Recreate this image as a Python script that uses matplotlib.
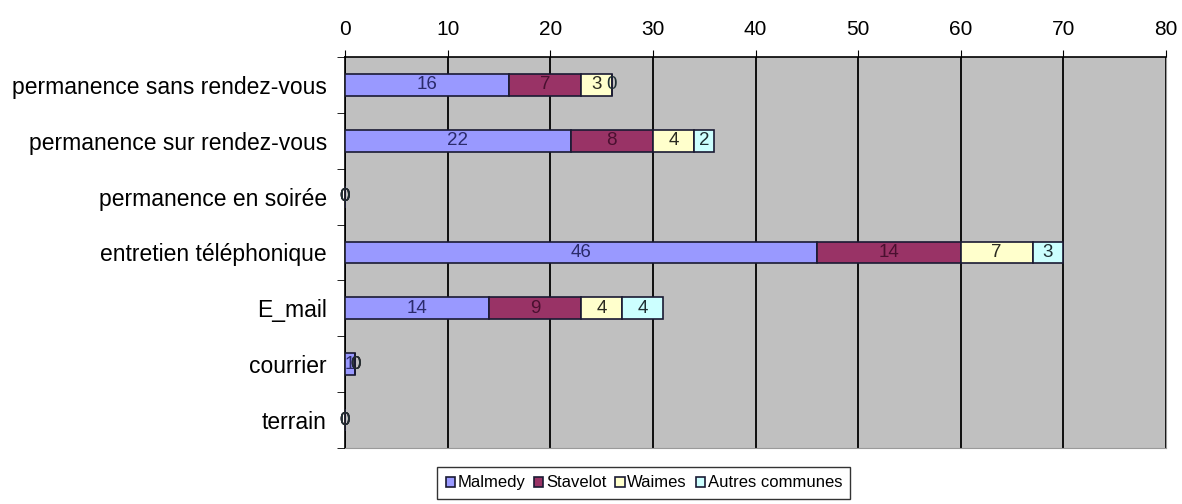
import numpy as np
import matplotlib
matplotlib.use("Agg")
import matplotlib.pyplot as plt

plt.rcParams["font.family"] = ["Liberation Sans", "DejaVu Sans"]

# categories, top to bottom
categories = [
    "permanence sans rendez-vous",
    "permanence sur rendez-vous",
    "permanence en soirée",
    "entretien téléphonique",
    "E_mail",
    "courrier",
    "terrain",
]
malmedy = [16, 22, 0, 46, 14, 1, 0]
stavelot = [7, 8, 0, 14, 9, 0, 0]
waimes = [3, 4, 0, 7, 4, 0, 0]
autres = [0, 2, 0, 3, 4, 0, 0]

series = [
    ("Malmedy", malmedy, "#9999ff", "#2b2b6b"),
    ("Stavelot", stavelot, "#993366", "#4a1030"),
    ("Waimes", waimes, "#ffffcc", "#2a2a20"),
    ("Autres communes", autres, "#ccffff", "#1f2f33"),
]

fig = plt.figure(figsize=(11.82, 5.04), dpi=100)
ax = fig.add_axes([345 / 1182, 1 - 448 / 504, 821 / 1182, 391 / 504])
ax.set_facecolor("#c0c0c0")

y = np.arange(len(categories))
left = np.zeros(len(categories))
for name, vals, color, tcol in series:
    vals = np.array(vals, dtype=float)
    ax.barh(y, vals, left=left, height=0.39, color=color,
            edgecolor="#1a1a33", linewidth=1.2, label=name, zorder=3)
    for yi, l, v in zip(y, left, vals):
        ax.text(l + v / 2, yi, f"{int(v)}", ha="center", va="center",
                fontsize=13.5, color=tcol, zorder=4)
    left = left + vals

ax.set_xlim(0, 80)
ax.set_ylim(len(categories) - 0.5, -0.5)
ax.set_xticks(np.arange(0, 81, 10))
ax.xaxis.tick_top()
ax.tick_params(axis="x", direction="out", length=5, labelsize=15, pad=8)
ax.grid(axis="x", color="black", linewidth=1.3, zorder=1)
ax.set_axisbelow(True)

ax.set_yticks(y)
ax.set_yticklabels(categories, fontsize=16.5)
ax.set_yticks(np.arange(-0.5, len(categories)), minor=True)
ax.tick_params(axis="y", which="major", length=0, pad=13)
ax.tick_params(axis="y", which="minor", length=6, direction="out")

ax.spines["top"].set_color("black")
ax.spines["left"].set_color("black")
ax.spines["top"].set_linewidth(1.2)
ax.spines["left"].set_linewidth(1.2)
ax.spines["right"].set_color("#9a9a9a")
ax.spines["bottom"].set_color("#9a9a9a")

leg = ax.legend(loc="upper center", bbox_to_anchor=(0.364, -0.049), ncol=4,
                fontsize=12, frameon=True, fancybox=False, edgecolor="black",
                handlelength=0.55, handleheight=0.55, handletextpad=0.15,
                columnspacing=0.55, borderpad=0.5, borderaxespad=0)
leg.get_frame().set_linewidth(1.0)

fig.savefig("out.png", dpi=100)
